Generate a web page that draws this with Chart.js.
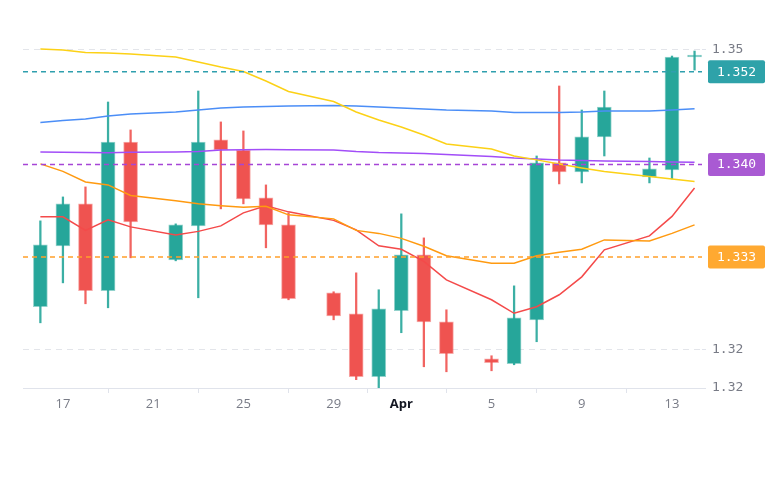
<!DOCTYPE html>
<html>
<head>
<meta charset="utf-8">
<script src="https://cdn.jsdelivr.net/npm/chart.js@4.4.1/dist/chart.umd.min.js"></script>
<style>
html,body{margin:0;padding:0;background:#fff}
</style>
</head>
<body>
<canvas id="c" width="770" height="489"></canvas>
<script>
// day offsets from Mar 16 (Sundays are missing)
var days   = [0,1,2,3,4,6,7,8,9,10,11,13,14,15,16,17,18,20,21,22,23,24,25,27,28,29];
var opens  = [1.32429,1.33038,1.33457,1.32589,1.34075,1.32898,1.33237,1.34095,1.33995,1.33516,1.33247,1.32569,1.32359,1.31731,1.32389,1.32948,1.32279,1.31910,1.31860,1.32299,1.33866,1.33776,1.34125,1.33726,1.33796,1.34923];
var highs  = [1.33287,1.33526,1.33626,1.34474,1.34195,1.33257,1.34584,1.34275,1.34185,1.33646,1.33367,1.32579,1.32768,1.32599,1.33357,1.33117,1.32399,1.31940,1.32638,1.33935,1.34634,1.34394,1.34584,1.33915,1.34933,1.34983];
var lows   = [1.32269,1.32668,1.32459,1.32419,1.32918,1.32888,1.32519,1.33407,1.33457,1.33018,1.32499,1.32299,1.31701,1.31621,1.32170,1.31830,1.31780,1.31790,1.31850,1.32080,1.33656,1.33666,1.33935,1.33666,1.33706,1.34793];
var closes = [1.33047,1.33457,1.32589,1.34075,1.33277,1.33247,1.34075,1.33995,1.33506,1.33247,1.32509,1.32339,1.31731,1.32409,1.32948,1.32279,1.31960,1.31870,1.32319,1.33866,1.33776,1.34125,1.34424,1.33806,1.34923,1.34943];

var maYellow = [1.35003,1.34993,1.34968,1.34963,1.34953,1.34923,1.34873,1.34823,1.34779,1.34684,1.34579,1.34479,1.34374,1.34295,1.34225,1.34145,1.34055,1.34005,1.33935,1.33896,1.33856,1.33816,1.33781,1.33731,1.33706,1.33681];
var maBlue   = [1.34270,1.34290,1.34305,1.34335,1.34354,1.34374,1.34394,1.34414,1.34424,1.34429,1.34434,1.34439,1.34434,1.34424,1.34414,1.34404,1.34394,1.34384,1.34369,1.34369,1.34369,1.34374,1.34384,1.34384,1.34394,1.34407];
var maPurple = [1.33975,1.33972,1.33970,1.33968,1.33972,1.33975,1.33980,1.33995,1.33998,1.34000,1.33998,1.33995,1.33980,1.33970,1.33965,1.33960,1.33950,1.33930,1.33915,1.33906,1.33896,1.33891,1.33886,1.33881,1.33876,1.33873];
var maOrange = [1.33856,1.33781,1.33676,1.33646,1.33541,1.33487,1.33457,1.33437,1.33422,1.33432,1.33347,1.33307,1.33192,1.33162,1.33112,1.33033,1.32938,1.32863,1.32863,1.32938,1.32973,1.33003,1.33097,1.33087,1.33162,1.33247];
var maRed    = [1.33327,1.33327,1.33192,1.33297,1.33227,1.33147,1.33182,1.33237,1.33367,1.33437,1.33377,1.33292,1.33197,1.33038,1.33003,1.32883,1.32698,1.32499,1.32364,1.32429,1.32549,1.32728,1.32998,1.33137,1.33332,1.33616];

var priceLines  = [1.34777, 1.33849, 1.32925];
var priceLabels = ['1.352', '1.340', '1.333'];
var priceColors = ['#2f9fae', '#a646d6', '#ffa02a'];
var priceBoxes  = ['#2ea2a9', '#a95ad3', '#ffa931'];

var tickDays   = [1, 5, 9, 13, 16, 20, 24, 28];
var tickLabels = ['17', '21', '25', '29', 'Apr', '5', '9', '13'];

var xMin = -0.77, xMax = 29.33;
var yMin = 1.31618, yMax = 1.35193;

var UP = '#26a69a', DOWN = '#ef5350';

function isUp(i) { return closes[i] >= opens[i]; }

function series(vals) {
  return days.map(function (d, i) { return { x: d, y: vals[i] }; });
}

function maLine(vals, color) {
  return {
    type: 'line', data: series(vals), borderColor: color, borderWidth: 1.5,
    pointRadius: 0, tension: 0, order: 1
  };
}

var datasets = [];

priceLines.forEach(function (v, i) {
  datasets.push({
    type: 'line', data: [{ x: xMin, y: v }, { x: xMax, y: v }],
    borderColor: priceColors[i], borderWidth: 1.5, borderDash: [5, 4],
    pointRadius: 0, order: 0
  });
});

datasets.push(maLine(maYellow, '#fcd116'));
datasets.push(maLine(maBlue, '#4b8ef7'));
datasets.push(maLine(maPurple, '#a24ef8'));
datasets.push(maLine(maOrange, '#ff9a10'));
datasets.push(maLine(maRed, '#f44a4a'));

// candle bodies
datasets.push({
  type: 'bar',
  data: days.map(function (d, i) { return { x: d, y: [opens[i], closes[i]] }; }),
  backgroundColor: days.map(function (d, i) { return isUp(i) ? UP : DOWN; }),
  borderColor: days.map(function (d, i) { return isUp(i) ? 'rgba(38,166,154,0.5)' : 'rgba(239,83,80,0.5)'; }),
  borderWidth: 1, borderSkipped: false, barThickness: 14, grouped: false, order: 2
});

// wicks
datasets.push({
  type: 'bar',
  data: days.map(function (d, i) { return { x: d, y: [lows[i], highs[i]] }; }),
  backgroundColor: days.map(function (d, i) { return isUp(i) ? 'rgba(38,166,154,0.9)' : 'rgba(239,83,80,0.9)'; }),
  borderWidth: 0, barThickness: 1.6, grouped: false, order: 3
});

var priceTags = {
  id: 'priceTags',
  afterDraw: function (chart) {
    var ctx = chart.ctx, y = chart.scales.y;
    ctx.save();
    ctx.font = '13px "DejaVu Sans Mono", monospace';
    ctx.textAlign = 'center';
    ctx.textBaseline = 'middle';
    priceLines.forEach(function (v, i) {
      var py = y.getPixelForValue(v);
      ctx.fillStyle = priceBoxes[i];
      ctx.beginPath();
      ctx.roundRect(708, py - 11.5, 57, 23, 2);
      ctx.fill();
      ctx.fillStyle = '#ffffff';
      ctx.fillText(priceLabels[i], 736.5, py + 0.5);
    });
    ctx.restore();
  }
};

new Chart(document.getElementById('c'), {
  type: 'bar',
  data: { datasets: datasets },
  plugins: [priceTags],
  options: {
    responsive: false,
    animation: false,
    layout: { padding: { left: 23, top: 30, bottom: 71, right: 0 } },
    plugins: { legend: { display: false }, tooltip: { enabled: false } },
    scales: {
      x: {
        type: 'linear', min: xMin, max: xMax, offset: false,
        afterBuildTicks: function (s) { s.ticks = tickDays.map(function (v) { return { value: v }; }); },
        afterFit: function (s) { s.height = 30; },
        grid: { drawOnChartArea: false, drawTicks: true, tickLength: 5, tickColor: '#e0e3eb' },
        border: { display: true, color: '#e0e3eb', width: 1 },
        ticks: {
          autoSkip: false, maxRotation: 0, padding: 3,
          callback: function (v, idx) { return tickLabels[idx]; },
          font: function (c) {
            var bold = c.tick && c.tick.value === 16;
            return { family: '"Open Sans", sans-serif', size: 13, weight: bold ? 'bold' : 'normal' };
          },
          color: function (c) { return c.tick && c.tick.value === 16 ? '#131722' : '#787b86'; }
        }
      },
      y: {
        type: 'linear', position: 'right', min: yMin, max: yMax,
        afterBuildTicks: function (s) { s.ticks = [{ value: yMin }, { value: 1.32 }, { value: 1.35 }]; },
        afterFit: function (s) { s.width = 68; },
        grid: {
          drawTicks: true, tickLength: 4,
          color: function (c) { return c.tick && c.tick.value === yMin ? 'rgba(0,0,0,0)' : '#e3e5ea'; },
          tickColor: '#e0e3eb', lineWidth: 1
        },
        border: { display: false, dash: [6, 5] },
        ticks: {
          padding: 6,
          callback: function (v) { return v.toFixed(2); },
          font: { family: '"DejaVu Sans Mono", monospace', size: 13 },
          color: '#787b86'
        }
      }
    }
  }
});
</script>
</body>
</html>
